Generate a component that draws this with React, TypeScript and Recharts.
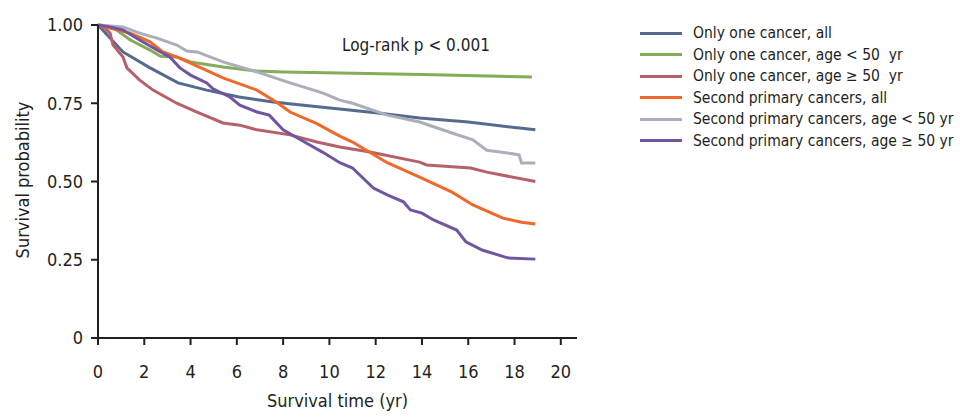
import { LineChart, Line, XAxis, YAxis, Label } from "recharts";

const FONT = "'Liberation Sans Narrow', 'DejaVu Sans Condensed', 'Roboto', sans-serif";
const INK = "#231f20";

// survival time (yr) and survival probability
const oneAllT = [0, 0.5, 1.08, 2.25, 3.46, 4.7, 6.1, 7.56, 9.6, 12, 13.9, 16, 18.9];
const oneAllS = [1, 0.96, 0.914, 0.863, 0.815, 0.792, 0.77, 0.754, 0.738, 0.72, 0.703, 0.69, 0.665];

const oneYoungT = [0, 0.5, 0.8, 1.4, 2.25, 2.7, 3.4, 4.0, 5.4, 6.87, 8, 10.45, 14, 18.75];
const oneYoungS = [1, 0.995, 0.984, 0.952, 0.92, 0.9, 0.898, 0.882, 0.866, 0.853, 0.85, 0.847, 0.842, 0.834];

const oneOldT = [0, 0.3, 0.52, 0.65, 1.08, 1.25, 1.8, 2.38, 3.4, 4.28, 5.4, 6.13, 6.87, 8.3, 9.46, 10.45, 11.75, 13.9, 14.2, 16.1, 16.8, 18.9];
const oneOldS = [1, 0.99, 0.974, 0.936, 0.898, 0.863, 0.824, 0.792, 0.75, 0.722, 0.687, 0.68, 0.665, 0.649, 0.626, 0.61, 0.594, 0.562, 0.553, 0.543, 0.53, 0.5];

const secAllT = [0, 0.5, 1.4, 2.25, 2.8, 3.4, 4.0, 5.4, 6.87, 7.7, 8.3, 9.46, 10.45, 11.0, 12.5, 13.9, 15.3, 16.2, 17.5, 18.3, 18.9];
const secAllS = [1, 0.99, 0.974, 0.946, 0.914, 0.898, 0.878, 0.831, 0.792, 0.754, 0.722, 0.685, 0.645, 0.626, 0.56, 0.514, 0.466, 0.425, 0.383, 0.37, 0.364];

const secYoungT = [0, 1.08, 1.8, 2.55, 3.4, 3.84, 4.28, 5.4, 6.87, 8.3, 9.7, 10.45, 11.0, 12.5, 13.9, 15.3, 16.2, 16.8, 17.7, 18.2, 18.3, 18.9];
const secYoungS = [1, 0.994, 0.974, 0.958, 0.936, 0.917, 0.914, 0.882, 0.85, 0.815, 0.783, 0.76, 0.75, 0.712, 0.69, 0.655, 0.633, 0.6, 0.591, 0.585, 0.559, 0.559];

const secOldT = [0, 0.5, 1.08, 1.8, 2.55, 3.1, 3.54, 4.0, 4.7, 4.97, 5.7, 6.13, 6.87, 7.4, 8.0, 9.0, 9.7, 10.45, 11.0, 11.9, 12.5, 13.2, 13.5, 14.0, 14.5, 15.5, 15.9, 16.6, 17.7, 18.9];
const secOldS = [1, 0.994, 0.984, 0.952, 0.92, 0.898, 0.863, 0.84, 0.815, 0.796, 0.77, 0.744, 0.722, 0.712, 0.665, 0.623, 0.594, 0.56, 0.543, 0.479, 0.457, 0.435, 0.409, 0.399, 0.377, 0.345, 0.307, 0.281, 0.256, 0.252];

const xTicks = [0, 2, 4, 6, 8, 10, 12, 14, 16, 18, 20];
const yTicks = [0, 0.25, 0.5, 0.75, 1];

const toPoints = (t: number[], s: number[]) => t.map((v, i) => ({ t: v, s: s[i] }));

const series = [
  { name: "Only one cancer, all", color: "#56698f", data: toPoints(oneAllT, oneAllS) },
  { name: "Only one cancer, age < 50  yr", color: "#84ac59", data: toPoints(oneYoungT, oneYoungS) },
  { name: "Only one cancer, age \u2265 50  yr", color: "#b8606a", data: toPoints(oneOldT, oneOldS) },
  { name: "Second primary cancers, all", color: "#f0692b", data: toPoints(secAllT, secAllS) },
  { name: "Second primary cancers, age < 50 yr", color: "#a9b0bb", data: toPoints(secYoungT, secYoungS) },
  { name: "Second primary cancers, age \u2265 50 yr", color: "#7055a0", data: toPoints(secOldT, secOldS) },
];

const LegendBox = () => (
  <div style={{ position: "absolute", left: 640, top: 22.5, fontFamily: FONT, fontSize: 15.5, color: INK }}>
    {series.map((s) => (
      <div key={s.name} style={{ display: "flex", alignItems: "center", height: 21.5 }}>
        <div style={{ width: 42, height: 3, background: s.color, marginRight: 11 }} />
        <span style={{ whiteSpace: "pre" }}>{s.name}</span>
      </div>
    ))}
  </div>
);

export default function App() {
  return (
    <div style={{ position: "absolute", left: 0, top: 0, width: 960, height: 419, background: "#fff" }}>
      <LineChart width={960} height={419} margin={{ top: 25, right: 383, bottom: 0, left: 8 }}>
        <XAxis
          type="number"
          dataKey="t"
          domain={[0, 20.7]}
          ticks={xTicks}
          allowDuplicatedCategory={false}
          height={81}
          stroke={INK}
          strokeWidth={2}
          tickSize={7}
          tickMargin={20}
          tick={{ fill: INK, fontSize: 18, fontFamily: FONT }}
        >
          <Label value="Survival time (yr)" position="insideBottom" offset={12} fill={INK} fontSize={18} fontFamily={FONT} />
        </XAxis>
        <YAxis
          type="number"
          domain={[0, 1]}
          ticks={yTicks}
          width={90}
          stroke={INK}
          strokeWidth={2}
          tickSize={7}
          tickMargin={8}
          tickFormatter={(v: number) => (v === 0 ? "0" : v.toFixed(2))}
          tick={{ fill: INK, fontSize: 18, fontFamily: FONT }}
        >
          <Label
            content={() => (
              <text x={22} y={180} transform="rotate(-90, 22, 180)" textAnchor="middle" dominantBaseline="central" fill={INK} fontSize={18} fontFamily={FONT}>
                Survival probability
              </text>
            )}
          />
        </YAxis>
        {series.map((s) => (
          <Line
            key={s.name}
            data={s.data}
            dataKey="s"
            name={s.name}
            type="linear"
            stroke={s.color}
            strokeWidth={3}
            dot={false}
            activeDot={false}
            isAnimationActive={false}
          />
        ))}
      </LineChart>
      <LegendBox />
      <div style={{ position: "absolute", left: 342, top: 35, fontFamily: FONT, fontSize: 17, color: INK, whiteSpace: "nowrap" }}>
        Log-rank p &lt; 0.001
      </div>
    </div>
  );
}
